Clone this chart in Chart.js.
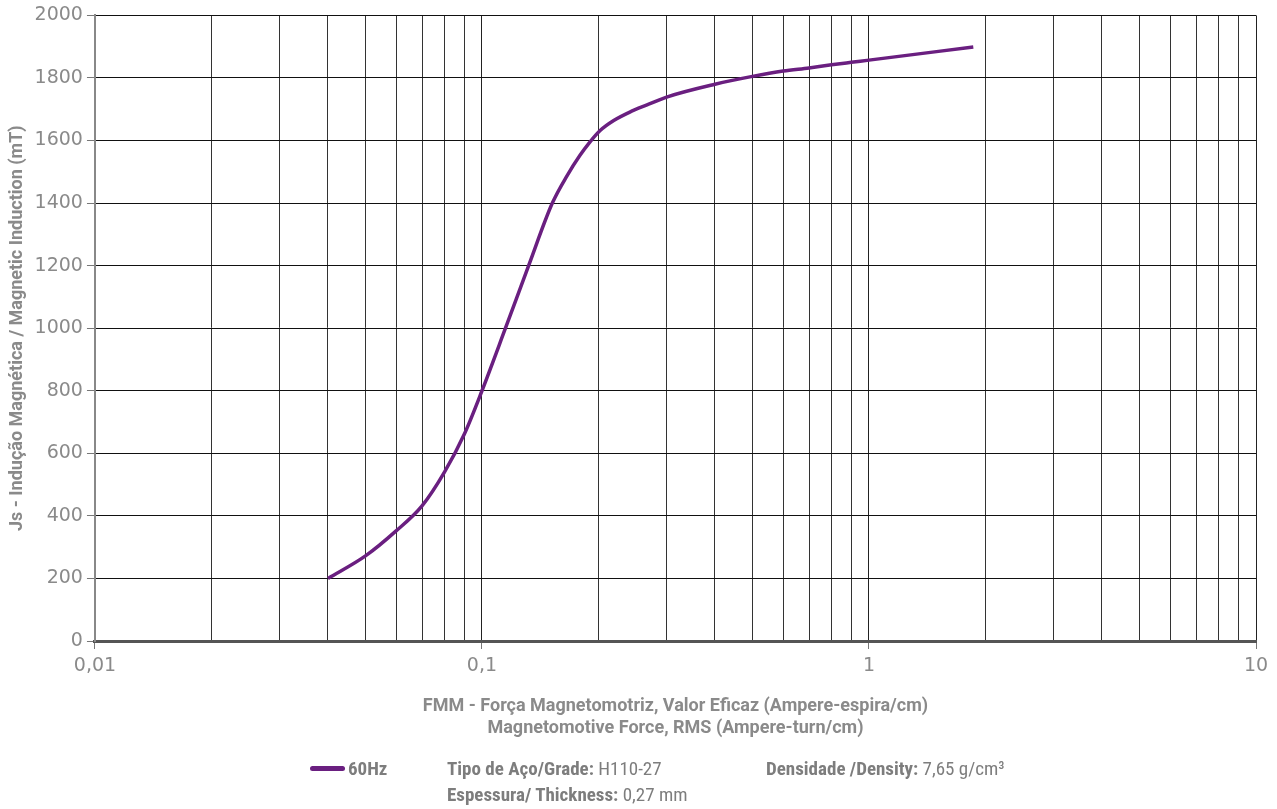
<!DOCTYPE html>
<html>
<head>
<meta charset="utf-8">
<script src="https://cdn.jsdelivr.net/npm/chart.js@4/dist/chart.umd.min.js"></script>
<style>
  body { margin: 0; background: #fff; }
  #wrap { position: relative; width: 1277px; height: 809px; }
  .foot { position: absolute; font-family: "Liberation Sans Narrow", "Roboto", sans-serif; font-stretch: condensed; font-size: 19px; color: #7d7d7d; white-space: nowrap; }
  .foot b { font-weight: bold; }
  .swatch { position: absolute; left: 310px; top: 766px; width: 35px; height: 5px; border-radius: 3px; background: #6a1f80; }
</style>
</head>
<body>
<div id="wrap">
  <canvas id="bhChart" width="1277" height="809"></canvas>
  <span class="swatch"></span>
  <div class="foot" style="left:348px; top:757px;"><b>60Hz</b></div>
  <div class="foot" style="left:447px; top:757px;"><b>Tipo de Aço/Grade:</b> H110-27</div>
  <div class="foot" style="left:766px; top:757px;"><b>Densidade /Density:</b> 7,65 g/cm³</div>
  <div class="foot" style="left:447px; top:783px;"><b>Espessura/ Thickness:</b> 0,27 mm</div>
</div>
<script>
// Curva de magnetização 60Hz
const fmm = [0.04, 0.05, 0.06, 0.07, 0.08, 0.09, 0.1, 0.115, 0.132, 0.152, 0.166, 0.179, 0.19, 0.202, 0.219, 0.241, 0.267, 0.3, 0.4, 0.5, 0.6, 0.7, 0.8, 0.9, 1, 1.86];
const inducao = [200, 272, 352, 432, 540, 661, 800, 1000, 1200, 1400, 1488, 1552, 1595, 1632, 1664, 1691, 1714, 1739, 1780, 1805, 1822, 1832, 1842, 1850, 1857, 1899];

// Ticks do eixo X (log)
const xDecades = [0.01, 0.1, 1, 10];
const xDecadeLabels = ['0,01', '0,1', '1', '10'];
const xMinorSteps = [2, 3, 4, 5, 6, 7, 8, 9];

const xTicks = [];
xDecades.forEach((d, i) => {
    xTicks.push(d);
    if (i < xDecades.length - 1) xMinorSteps.forEach(m => xTicks.push(+(d * m).toPrecision(3)));
});
const isMajor = v => xDecades.some(d => Math.abs(v - d) < d * 1e-6);

const gray = '#8a8a8a';
const tickFont = { family: '"DejaVu Sans", sans-serif', size: 19 };
const titleFont = { family: '"Liberation Sans Narrow", Roboto, sans-serif', size: 18, weight: 'bold' };

const ctx = document.getElementById('bhChart').getContext('2d');

new Chart(ctx, {
    type: 'line',
    data: {
        datasets: [{
            label: '60Hz',
            data: fmm.map((x, i) => ({ x: x, y: inducao[i] })),
            borderColor: '#6a1f80',
            borderWidth: 3.5,
            pointRadius: 0,
            cubicInterpolationMode: 'monotone',
            fill: false
        }]
    },
    options: {
        responsive: false,
        animation: false,
        layout: { padding: { top: 6, right: 21, bottom: 70, left: 3 } },
        plugins: {
            legend: { display: false },
            tooltip: { enabled: false }
        },
        scales: {
            x: {
                type: 'logarithmic',
                min: 0.01,
                max: 10,
                afterBuildTicks: axis => { axis.ticks = xTicks.map(v => ({ value: v })); },
                ticks: {
                    autoSkip: false,
                    maxRotation: 0,
                    color: gray,
                    font: tickFont,
                    padding: 6,
                    callback: value => {
                        const i = xDecades.findIndex(d => Math.abs(value - d) < d * 1e-6);
                        return i >= 0 ? xDecadeLabels[i] : '';
                    }
                },
                grid: {
                    color: ctx => (ctx.tick && isMajor(ctx.tick.value)) ? '#222' : '#333',
                    lineWidth: 1,
                    tickLength: 8,
                    tickColor: ctx => (ctx.tick && isMajor(ctx.tick.value)) ? '#777' : 'rgba(0,0,0,0)'
                },
                border: { color: '#555', width: 3 },
                title: {
                    display: true,
                    text: ['FMM - Força Magnetomotriz, Valor Eficaz (Ampere-espira/cm)', 'Magnetomotive Force, RMS (Ampere-turn/cm)'],
                    color: gray,
                    font: titleFont,
                    padding: { top: 12, bottom: 0 }
                }
            },
            y: {
                min: 0,
                max: 2000,
                ticks: { stepSize: 200, color: gray, font: tickFont, padding: 4, callback: v => String(v) },
                grid: { color: '#111', lineWidth: 1, tickLength: 8, tickColor: '#777' },
                border: { color: '#888', width: 2 },
                title: {
                    display: true,
                    text: 'Js - Indução Magnética / Magnetic Induction (mT)',
                    color: gray,
                    font: titleFont,
                    padding: { top: 4, bottom: 2 }
                }
            }
        }
    }
});
</script>
</body>
</html>
